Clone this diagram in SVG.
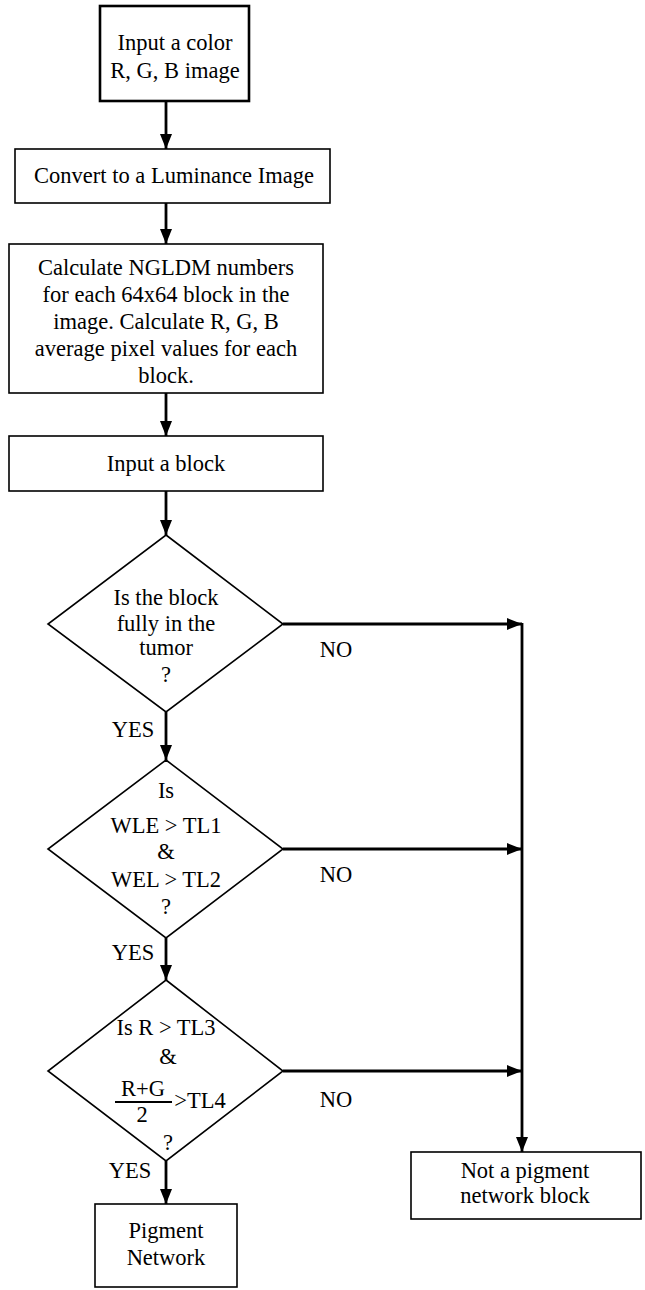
<svg xmlns="http://www.w3.org/2000/svg" width="645" height="1290" viewBox="0 0 645 1290">
<style>
.bx{fill:#fff;stroke:#000;stroke-width:1.6}
.bx2{fill:#fff;stroke:#000;stroke-width:2.6}
.dm{fill:#fff;stroke:#000;stroke-width:1.6}
.t{font-family:"Liberation Serif","Times New Roman",serif;font-size:22.5px;fill:#000;text-anchor:middle}
.c{fill:none;stroke:#000;stroke-width:2.8}
</style>
<defs>
<marker id="ah" markerUnits="userSpaceOnUse" markerWidth="15" markerHeight="12" refX="15" refY="6" orient="auto">
<path d="M0,0 L15,6 L0,12 z" fill="#000"/>
</marker>
</defs>
<rect width="645" height="1290" fill="#fff"/>
<g id="connectors">
<line class="c" x1="166" y1="101" x2="166" y2="149" marker-end="url(#ah)"/>
<line class="c" x1="166" y1="203" x2="166" y2="244" marker-end="url(#ah)"/>
<line class="c" x1="166" y1="393" x2="166" y2="436" marker-end="url(#ah)"/>
<line class="c" x1="166" y1="491" x2="166" y2="535" marker-end="url(#ah)"/>
<line class="c" x1="166" y1="712" x2="166" y2="760" marker-end="url(#ah)"/>
<line class="c" x1="166" y1="938" x2="166" y2="980" marker-end="url(#ah)"/>
<line class="c" x1="166" y1="1161" x2="166" y2="1204" marker-end="url(#ah)"/>
<line class="c" x1="283" y1="624" x2="522" y2="624" marker-end="url(#ah)"/>
<line class="c" x1="283" y1="849" x2="522" y2="849" marker-end="url(#ah)"/>
<line class="c" x1="283" y1="1071" x2="522" y2="1071" marker-end="url(#ah)"/>
<line class="c" x1="522" y1="623" x2="522" y2="1152" marker-end="url(#ah)"/>
<text class="t" x="336" y="657">NO</text>
<text class="t" x="336" y="882">NO</text>
<text class="t" x="336" y="1107">NO</text>
<text class="t" x="133" y="737">YES</text>
<text class="t" x="133" y="960">YES</text>
<text class="t" x="130" y="1178">YES</text>
</g>
<g id="n1">
<rect class="bx2" x="100" y="6" width="149" height="95"/>
<text class="t" x="175" y="50">Input a color</text>
<text class="t" x="175" y="78">R, G, B image</text>
</g>
<g id="n2">
<rect class="bx" x="15" y="149" width="315" height="54"/>
<text class="t" x="174" y="183">Convert to a Luminance Image</text>
</g>
<g id="n3">
<rect class="bx" x="9" y="244" width="314" height="149"/>
<text class="t" x="166" y="275">Calculate NGLDM numbers</text>
<text class="t" x="166" y="302">for each 64x64 block in the</text>
<text class="t" x="166" y="329">image. Calculate R, G, B</text>
<text class="t" x="166" y="356">average pixel values for each</text>
<text class="t" x="166" y="383">block.</text>
</g>
<g id="n4">
<rect class="bx" x="9" y="436" width="314" height="55"/>
<text class="t" x="166" y="471">Input a block</text>
</g>
<g id="d1">
<polygon class="dm" points="166,535 283,624 166,712 48,624"/>
<text class="t" x="166" y="605">Is the block</text>
<text class="t" x="166" y="631">fully in the</text>
<text class="t" x="166" y="655">tumor</text>
<text class="t" x="166" y="682">?</text>
</g>
<g id="d2">
<polygon class="dm" points="166,760 283,849 166,938 48,849"/>
<text class="t" x="166" y="798">Is</text>
<text class="t" x="166" y="833">WLE &gt; TL1</text>
<text class="t" x="166" y="859">&amp;</text>
<text class="t" x="166" y="887">WEL &gt; TL2</text>
<text class="t" x="166" y="914">?</text>
</g>
<g id="d3">
<polygon class="dm" points="166,980 283,1071 166,1161 48,1071"/>
<text class="t" x="166" y="1035">Is R &gt; TL3</text>
<text class="t" x="168" y="1064">&amp;</text>
<text class="t" x="143" y="1096">R+G</text>
<line x1="115" y1="1102" x2="172" y2="1102" stroke="#000" stroke-width="2"/>
<text class="t" x="142" y="1122">2</text>
<text class="t" x="200" y="1108">&gt;TL4</text>
<text class="t" x="168" y="1150">?</text>
</g>
<g id="n5">
<rect class="bx" x="95" y="1204" width="142" height="83"/>
<text class="t" x="166" y="1238">Pigment</text>
<text class="t" x="166" y="1265">Network</text>
</g>
<g id="n6">
<rect class="bx" x="411" y="1152" width="230" height="67"/>
<text class="t" x="525" y="1178">Not a pigment</text>
<text class="t" x="525" y="1203">network block</text>
</g>
</svg>
